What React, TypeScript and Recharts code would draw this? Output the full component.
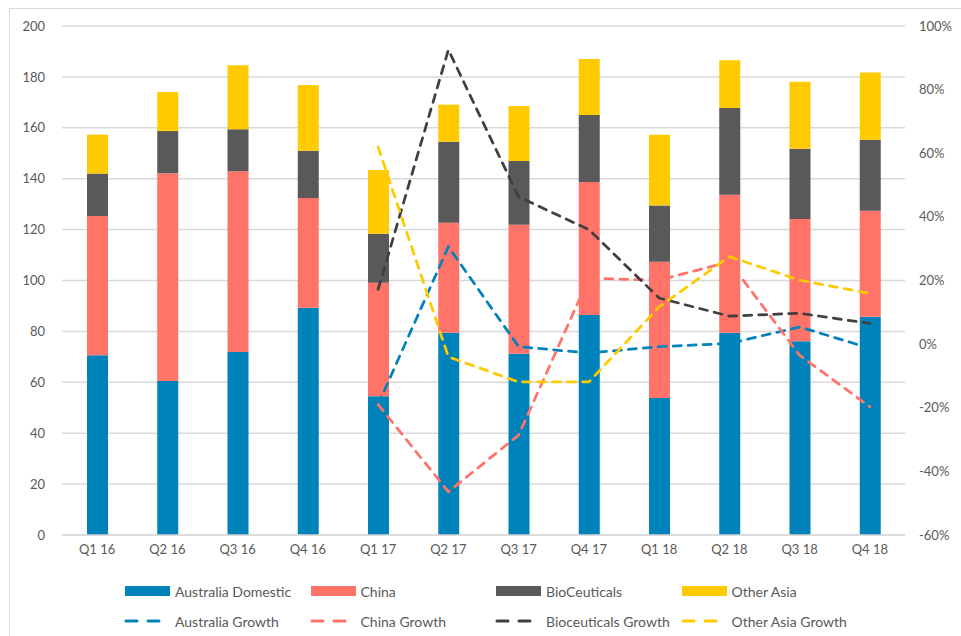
import React from 'react';
import { ComposedChart, Bar, Line, XAxis, YAxis, CartesianGrid } from 'recharts';

const categories = ['Q1 16', 'Q2 16', 'Q3 16', 'Q4 16', 'Q1 17', 'Q2 17', 'Q3 17', 'Q4 17', 'Q1 18', 'Q2 18', 'Q3 18', 'Q4 18'];

const australiaDomestic = [70.6, 60.5, 71.9, 89.3, 54.5, 79.5, 71.2, 86.4, 53.8, 79.5, 76.1, 85.8];
const china = [54.7, 81.6, 71.0, 43.1, 44.6, 43.2, 50.7, 52.3, 53.6, 54.2, 48.1, 41.6];
const bioCeuticals = [16.7, 16.6, 16.5, 18.6, 19.3, 31.8, 25.1, 26.3, 22.1, 34.1, 27.6, 27.9];
const otherAsia = [15.3, 15.4, 25.2, 25.8, 25.0, 14.6, 21.6, 22.0, 27.8, 18.7, 26.3, 26.4];

const australiaGrowth = [null, null, null, null, -19, 30.6, -0.8, -2.8, -0.8, 0.2, 5.4, -1.3];
const chinaGrowth = [null, null, null, null, -19, -46.4, -28.6, 20.7, 20.1, 25.9, -3.5, -19.7];
const bioceuticalsGrowth = [null, null, null, null, 17.2, 92.5, 46.3, 36, 14.5, 8.8, 9.7, 6.5];
const otherAsiaGrowth = [null, null, null, null, 62, -4, -11.9, -11.9, 11.7, 27.5, 20.1, 15.9];

const leftTicks = [0, 20, 40, 60, 80, 100, 120, 140, 160, 180, 200];
const rightTicks = [-60, -40, -20, 0, 20, 40, 60, 80, 100];

const C_AUS = '#0083BA';
const C_CHINA = '#FF7369';
const C_BIO = '#595959';
const C_BIO_LINE = '#3F3F3F';
const C_OA = '#FFCA00';
const GRID = '#D9D9D9';
const TEXT = '#595959';
const FONT = 'Lato, "Open Sans", sans-serif';

const data = categories.map((q, i) => ({
  q,
  aus: australiaDomestic[i],
  china: china[i],
  bio: bioCeuticals[i],
  oa: otherAsia[i],
  ausG: australiaGrowth[i],
  chinaG: chinaGrowth[i],
  bioG: bioceuticalsGrowth[i],
  oaG: otherAsiaGrowth[i],
}));

const barLegend = [
  { name: 'Australia Domestic', color: C_AUS },
  { name: 'China', color: C_CHINA },
  { name: 'BioCeuticals', color: C_BIO },
  { name: 'Other Asia', color: C_OA },
];
const lineLegend = [
  { name: 'Australia Growth', color: C_AUS },
  { name: 'China Growth', color: C_CHINA },
  { name: 'Bioceuticals Growth', color: C_BIO_LINE },
  { name: 'Other Asia Growth', color: C_OA },
];

const DASH = '8 7';

function LegendBlock() {
  const colX = [125, 310.5, 496, 681.5];
  return (
    <>
      {barLegend.map((it, k) => (
        <div key={it.name} style={{ position: 'absolute', left: colX[k], top: 582, height: 18, display: 'flex', alignItems: 'center', fontFamily: FONT, fontSize: 14, color: TEXT, whiteSpace: 'nowrap' }}>
          <div style={{ width: 45, height: 10, background: it.color, marginRight: 5 }} />
          <span>{it.name}</span>
        </div>
      ))}
      {lineLegend.map((it, k) => (
        <div key={it.name} style={{ position: 'absolute', left: colX[k] - 2, top: 612, height: 18, display: 'flex', alignItems: 'center', fontFamily: FONT, fontSize: 14, color: TEXT, whiteSpace: 'nowrap' }}>
          <svg width={47} height={10} style={{ marginRight: 5 }}>
            <line x1={3} y1={5} x2={41} y2={5} stroke={it.color} strokeWidth={3} strokeDasharray="11 11" strokeLinecap="round" />
          </svg>
          <span>{it.name}</span>
        </div>
      ))}
    </>
  );
}

export default function App() {
  return (
    <div style={{ position: 'absolute', left: 0, top: 0, width: 961, height: 636, overflow: 'hidden', background: '#fff' }}>
      <div style={{ position: 'absolute', left: 9, top: 8, width: 952, height: 628, borderLeft: `1px solid ${GRID}`, borderTop: `1px solid ${GRID}`, boxSizing: 'border-box' }} />
      <div style={{ position: 'absolute', left: 0, top: 0 }}>
        <ComposedChart width={961} height={636} data={data} margin={{ top: 26, right: 0, bottom: 71, left: 0 }} barCategoryGap="35%">
          <CartesianGrid vertical={false} stroke={GRID} strokeWidth={1.5} yAxisId="left" />
          <XAxis dataKey="q" height={30} axisLine={{ stroke: GRID, strokeWidth: 1.5 }} tickLine={false} tickMargin={4} tick={{ fill: TEXT, fontSize: 13, fontFamily: FONT }} interval={0} />
          <YAxis yAxisId="left" width={62} domain={[0, 200]} ticks={leftTicks} axisLine={false} tickLine={false} tickMargin={11} tick={{ fill: TEXT, fontSize: 13, fontFamily: FONT }} />
          <YAxis yAxisId="right" orientation="right" width={56} domain={[-60, 100]} ticks={rightTicks} axisLine={false} tickLine={false} tickMargin={8} tickFormatter={(v: number) => `${v}%`} tick={{ fill: TEXT, fontSize: 13, fontFamily: FONT, textAnchor: 'start' }} />
          <Bar yAxisId="left" dataKey="aus" name="Australia Domestic" stackId="a" fill={C_AUS} barSize={21} isAnimationActive={false} />
          <Bar yAxisId="left" dataKey="china" name="China" stackId="a" fill={C_CHINA} barSize={21} isAnimationActive={false} />
          <Bar yAxisId="left" dataKey="bio" name="BioCeuticals" stackId="a" fill={C_BIO} barSize={21} isAnimationActive={false} />
          <Bar yAxisId="left" dataKey="oa" name="Other Asia" stackId="a" fill={C_OA} barSize={21} isAnimationActive={false} />
          <Line yAxisId="right" type="linear" dataKey="ausG" name="Australia Growth" stroke={C_AUS} strokeWidth={2.75} strokeDasharray={DASH} strokeLinecap="round" dot={false} activeDot={false} isAnimationActive={false} />
          <Line yAxisId="right" type="linear" dataKey="chinaG" name="China Growth" stroke={C_CHINA} strokeWidth={2.75} strokeDasharray={DASH} strokeLinecap="round" dot={false} activeDot={false} isAnimationActive={false} />
          <Line yAxisId="right" type="linear" dataKey="bioG" name="Bioceuticals Growth" stroke={C_BIO_LINE} strokeWidth={2.75} strokeDasharray={DASH} strokeLinecap="round" dot={false} activeDot={false} isAnimationActive={false} />
          <Line yAxisId="right" type="linear" dataKey="oaG" name="Other Asia Growth" stroke={C_OA} strokeWidth={2.75} strokeDasharray={DASH} strokeLinecap="round" dot={false} activeDot={false} isAnimationActive={false} />
        </ComposedChart>
      </div>
      <LegendBlock />
    </div>
  );
}
